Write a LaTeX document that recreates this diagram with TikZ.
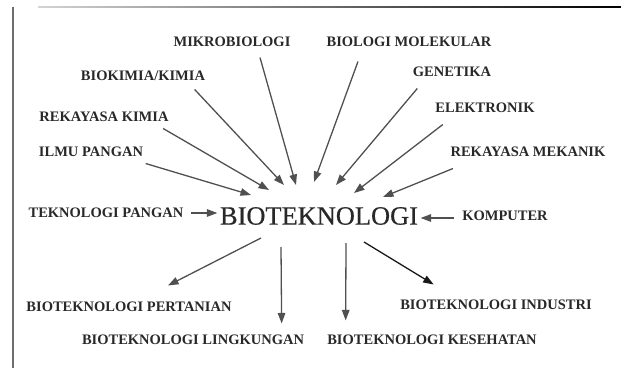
\documentclass[tikz,border=0pt]{standalone}
\usepackage{fontspec}
\setmainfont{Liberation Serif}
\newfontfamily\hubfont[FakeBold=0.5]{Liberation Serif}
\usepackage{xcolor}
\usepackage{tikz}
\usetikzlibrary{arrows.meta,positioning,calc}
\definecolor{bio@ink}{RGB}{40,40,40}
\definecolor{bio@arrow}{RGB}{80,80,80}
\definecolor{bio@dark}{RGB}{25,25,25}
\definecolor{bio@frame}{RGB}{110,110,110}
\tikzset{
  biomap/.style={
    x=1pt, y=1pt,
    >={Triangle[length=10.5pt,width=7.5pt]},
    line width=1.3pt
  },
  field/.style={                   % source / target field label
    text=bio@ink, inner sep=2pt,
    font=\fontsize{14.5}{16}\selectfont\bfseries
  },
  hub/.style={                     % central term
    text=bio@ink, inner sep=2pt,
    font=\hubfont\fontsize{26.4}{30}\selectfont
  },
  inarrow/.style={->, draw=bio@arrow},
  outarrow/.style={->, draw=bio@arrow},
  darkarrow/.style={->, draw=bio@dark}
}
\begin{document}
\begin{tikzpicture}[biomap]
\useasboundingbox (0,0) rectangle (621,368);

% Frame
\draw[bio@frame, line width=1.4pt] (13,361) -- (13,0);
\shade[left color=bio@frame!30, right color=black] (38,360.3) rectangle (621,361.7);

% Central term
\node[hub] (bio) at (319,152) {BIOTEKNOLOGI};

% Source fields
\node[field] (mikro)  at (232,326) {MIKROBIOLOGI};
\node[field] (biomol) at (409,326) {BIOLOGI MOLEKULAR};
\node[field] (biokim) at (143,292) {BIOKIMIA/KIMIA};
\node[field] (genet)  at (452,296) {GENETIKA};
\node[field] (rekkim) at (104,251) {REKAYASA KIMIA};
\node[field] (elek)   at (485,260) {ELEKTRONIK};
\node[field] (ilmu)   at (91,216)  {ILMU PANGAN};
\node[field] (rekmek) at (528,216) {REKAYASA MEKANIK};
\node[field] (tekpan) at (106,155) {TEKNOLOGI PANGAN};
\node[field] (komp)   at (505,152) {KOMPUTER};

% Target fields
\node[field] (pert) at (129,61) {BIOTEKNOLOGI PERTANIAN};
\node[field] (ind)  at (496,63) {BIOTEKNOLOGI INDUSTRI};
\node[field] (ling) at (193,28) {BIOTEKNOLOGI LINGKUNGAN};
\node[field] (kes)  at (432,28) {BIOTEKNOLOGI KESEHATAN};

% Arrows into the hub
\draw[inarrow] ([yshift=-4pt]ilmu.south east) -- ([shift={(-68pt,21pt)}]bio.center);
\draw[inarrow] ([shift={(-8pt,-4pt)}]rekkim.south east) -- ([shift={(-50pt,26pt)}]bio.center);
\draw[inarrow] ([shift={(-13pt,-6pt)}]biokim.south east) -- ([shift={(-35pt,31pt)}]bio.center);
\draw[inarrow] ([shift={(28pt,-8pt)}]mikro.south) -- ([shift={(-23pt,31pt)}]bio.center);
\draw[inarrow] ([shift={(-51pt,-12pt)}]biomol.south) -- ([shift={(-5pt,34pt)}]bio.center);
\draw[inarrow] ([shift={(7pt,-9pt)}]genet.south west) -- ([shift={(17pt,31pt)}]bio.center);
\draw[inarrow] ([shift={(10pt,-9pt)}]elek.south west) -- ([shift={(35pt,23pt)}]bio.center);
\draw[inarrow] ([shift={(5pt,-9pt)}]rekmek.south west) -- ([shift={(64pt,19pt)}]bio.center);
\draw[inarrow] ([xshift=5pt]tekpan.east) -- ([yshift=3pt]bio.west);
\draw[inarrow] ([xshift=-6pt,yshift=-2pt]komp.west) -- ([yshift=-2pt]bio.east);

% Arrows out of the hub
\draw[outarrow] ([shift={(-58pt,-22pt)}]bio.center) -- ([shift={(39pt,14pt)}]pert.north);
\draw[outarrow] ([shift={(-38pt,-31pt)}]bio.center) -- ([shift={(-25pt,9pt)}]ling.north east);
\draw[outarrow] ([shift={(27pt,-27pt)}]bio.center) -- ([shift={(21pt,12pt)}]kes.north west);
\draw[darkarrow] ([shift={(45pt,-26pt)}]bio.center) -- ([shift={(36pt,13pt)}]ind.north west);

\end{tikzpicture}
\end{document}
